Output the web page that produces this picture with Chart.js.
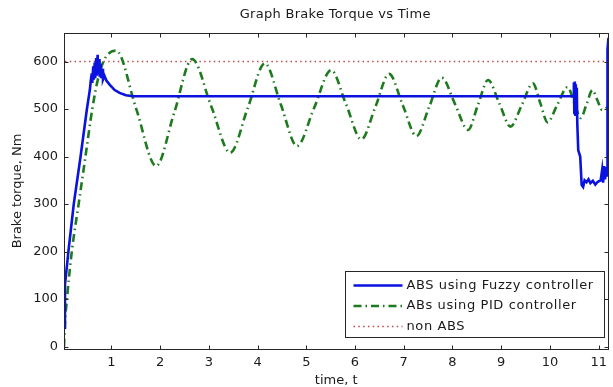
<!DOCTYPE html>
<html>
<head>
<meta charset="utf-8">
<title>Graph Brake Torque vs Time</title>
<script src="https://cdn.jsdelivr.net/npm/chart.js@4.4.1/dist/chart.umd.min.js"></script>
<style>
    html, body { margin: 0; padding: 0; background: #fff; }
    #wrap { width: 613px; height: 387px; }
</style>
</head>
<body>
<div id="wrap"><canvas id="brakeChart" width="613" height="387"></canvas></div>
<script>
// values (time in s, torque in Nm)
const xTicks = [1, 2, 3, 4, 5, 6, 7, 8, 9, 10, 11];
const yTicks = [0, 100, 200, 300, 400, 500, 600];

const seriesLabels = ['ABS using Fuzzy controller', 'ABs using PID controller', 'non ABS'];

const fuzzyTime = [0.03, 0.05, 0.12, 0.23, 0.37, 0.50, 0.56, 0.58, 0.60, 0.61, 0.63, 0.64, 0.66, 0.67, 0.69, 0.70,
    0.72, 0.73, 0.75, 0.76, 0.78, 0.79, 0.81, 0.83, 0.86, 0.90, 0.97, 1.07, 1.17, 1.30, 1.45,
    10.48, 10.49, 10.50, 10.51, 10.52, 10.53, 10.54, 10.55, 10.56, 10.58, 10.62, 10.65, 10.68, 10.71,
    10.75, 10.79, 10.83, 10.88, 10.93, 10.98, 11.04, 11.07, 11.09, 11.11, 11.13, 11.15, 11.17, 11.18, 11.20];
const fuzzyTorque = [40, 130, 200, 300, 400, 500, 540, 560, 575, 555, 590, 562, 598, 565, 607, 570,
    614, 575, 605, 568, 595, 565, 585, 562, 570, 560, 551, 540, 534, 529, 527,
    527, 556, 492, 558, 488, 552, 495, 545, 470, 413, 400, 340, 336, 350,
    346, 352, 344, 349, 341, 347, 350, 372, 345, 380, 352, 378, 360, 625, 650];

const pidTime = [0.03, 0.05, 0.09, 0.19, 0.33, 0.47, 0.61, 0.72, 0.84, 0.96, 1.10,
    1.51, 1.92, 2.29, 2.66, 3.05, 3.44, 3.80, 4.15, 4.48, 4.81, 5.16, 5.51, 5.82, 6.13, 6.42,
    6.70, 6.98, 7.26, 7.52, 7.78, 8.05, 8.32, 8.52, 8.73, 8.96, 9.19, 9.42, 9.65, 9.80, 9.95,
    10.15, 10.36, 10.50, 10.63, 10.75, 10.87, 10.97, 11.07, 11.20];
const pidTorque = [0, 50, 100, 200, 300, 400, 500, 560, 600, 618, 623,
    501, 380, 492, 605, 506, 408, 502, 596, 509, 422, 502, 582, 509, 436, 505,
    574, 508, 443, 504, 566, 511, 456, 508, 561, 512, 463, 508, 554, 513, 472,
    509, 546, 513, 481, 510, 540, 519, 498, 505];

const nonAbsTime = [0.05, 11.2];
const nonAbsTorque = [600, 600];

const toPoints = (xs, ys) => xs.map((t, i) => ({x: t, y: ys[i]}));

const textColor = '#1a1a1a';
Chart.defaults.font.family = "'DejaVu Sans', sans-serif";
Chart.defaults.font.size = 13;
Chart.defaults.color = textColor;

// matlab style box, inward ticks, title and legend
const matlabFrame = {
    id: 'matlabFrame',
    afterDraw(chart) {
        const {ctx, chartArea: a, scales: {x, y}} = chart;
        ctx.save();
        ctx.strokeStyle = '#262626';
        ctx.lineWidth = 1;
        const L = Math.round(a.left) + 0.5, T = Math.round(a.top) + 0.5;
        const R = Math.round(a.right) + 0.5, B = Math.round(a.bottom) + 0.5;
        ctx.strokeRect(L, T, R - L, B - T);

        const tl = 4;
        ctx.beginPath();
        x.ticks.forEach(t => {
            const px = Math.round(x.getPixelForValue(t.value)) + 0.5;
            ctx.moveTo(px, B); ctx.lineTo(px, B - tl);
            ctx.moveTo(px, T); ctx.lineTo(px, T + tl);
        });
        y.ticks.forEach(t => {
            const py = Math.round(y.getPixelForValue(t.value)) + 0.5;
            ctx.moveTo(L, py); ctx.lineTo(L + tl, py);
            ctx.moveTo(R, py); ctx.lineTo(R - tl, py);
        });
        ctx.stroke();

        // title
        ctx.fillStyle = textColor;
        ctx.font = "13px 'DejaVu Sans'";
        ctx.textAlign = 'center';
        ctx.textBaseline = 'middle';
        ctx.letterSpacing = '0.3px';
        ctx.fillText('Graph Brake Torque vs Time', (a.left + a.right) / 2 - 1, 15);

        // legend box
        const box = {left: 345.5, top: 271.5, right: 604.5, bottom: 337.5};
        ctx.fillStyle = '#fff';
        ctx.fillRect(box.left, box.top, box.right - box.left, box.bottom - box.top);
        ctx.strokeStyle = '#262626';
        ctx.lineWidth = 1;
        ctx.strokeRect(box.left, box.top, box.right - box.left, box.bottom - box.top);

        ctx.letterSpacing = '0.6px';
        ctx.textAlign = 'left';
        chart.data.datasets.forEach((ds, i) => {
            const ry = box.top + 14 + i * 20.5;
            ctx.save();
            ctx.strokeStyle = ds.borderColor;
            ctx.lineWidth = ds.borderWidth;
            ctx.setLineDash(ds.borderDash || []);
            ctx.beginPath();
            ctx.moveTo(box.left + 8, ry);
            ctx.lineTo(box.left + 57, ry);
            ctx.stroke();
            ctx.restore();
            ctx.fillStyle = textColor;
            ctx.fillText(ds.label, box.left + 61, ry);
        });
        ctx.restore();
    }
};

const ctx = document.getElementById('brakeChart').getContext('2d');

const brakeChart = new Chart(ctx, {
    type: 'line',
    data: {
        datasets: [{
            label: seriesLabels[0],
            data: toPoints(fuzzyTime, fuzzyTorque),
            borderColor: '#0a12e0',
            borderWidth: 2.6,
            pointRadius: 0,
            tension: 0
        }, {
            label: seriesLabels[1],
            data: toPoints(pidTime, pidTorque),
            borderColor: '#1e7a1e',
            borderWidth: 2.6,
            borderDash: [8, 4, 1.5, 4],
            pointRadius: 0,
            cubicInterpolationMode: 'monotone'
        }, {
            label: seriesLabels[2],
            data: toPoints(nonAbsTime, nonAbsTorque),
            borderColor: '#c04848',
            borderWidth: 1.3,
            borderDash: [1.5, 3.3],
            pointRadius: 0
        }]
    },
    options: {
        responsive: false,
        animation: false,
        devicePixelRatio: 1,
        layout: {padding: {top: 33, left: 0, right: 0, bottom: 0}},
        plugins: {
            legend: {display: false},
            title: {display: false},
            tooltip: {enabled: false}
        },
        scales: {
            x: {
                type: 'linear',
                min: 0.03,
                max: 11.198,
                grid: {display: false, drawTicks: false},
                border: {display: false},
                afterBuildTicks: s => { s.ticks = xTicks.map(v => ({value: v})); },
                afterFit: s => { s.height = 38; },
                ticks: {padding: 6, maxRotation: 0, autoSkip: false, font: {size: 13}},
                title: {display: true, text: 'time, t', font: {size: 13, lineHeight: 1}, padding: 0}
            },
            y: {
                min: -5,
                max: 660,
                grid: {display: false, drawTicks: false},
                border: {display: false},
                afterBuildTicks: s => { s.ticks = yTicks.map(v => ({value: v})); },
                afterFit: s => { s.width = 64; },
                ticks: {padding: 6, font: {size: 13}},
                title: {display: true, text: 'Brake torque, Nm', font: {size: 13}, padding: {top: 10, bottom: 0}}
            }
        }
    },
    plugins: [matlabFrame]
});
</script>
</body>
</html>
